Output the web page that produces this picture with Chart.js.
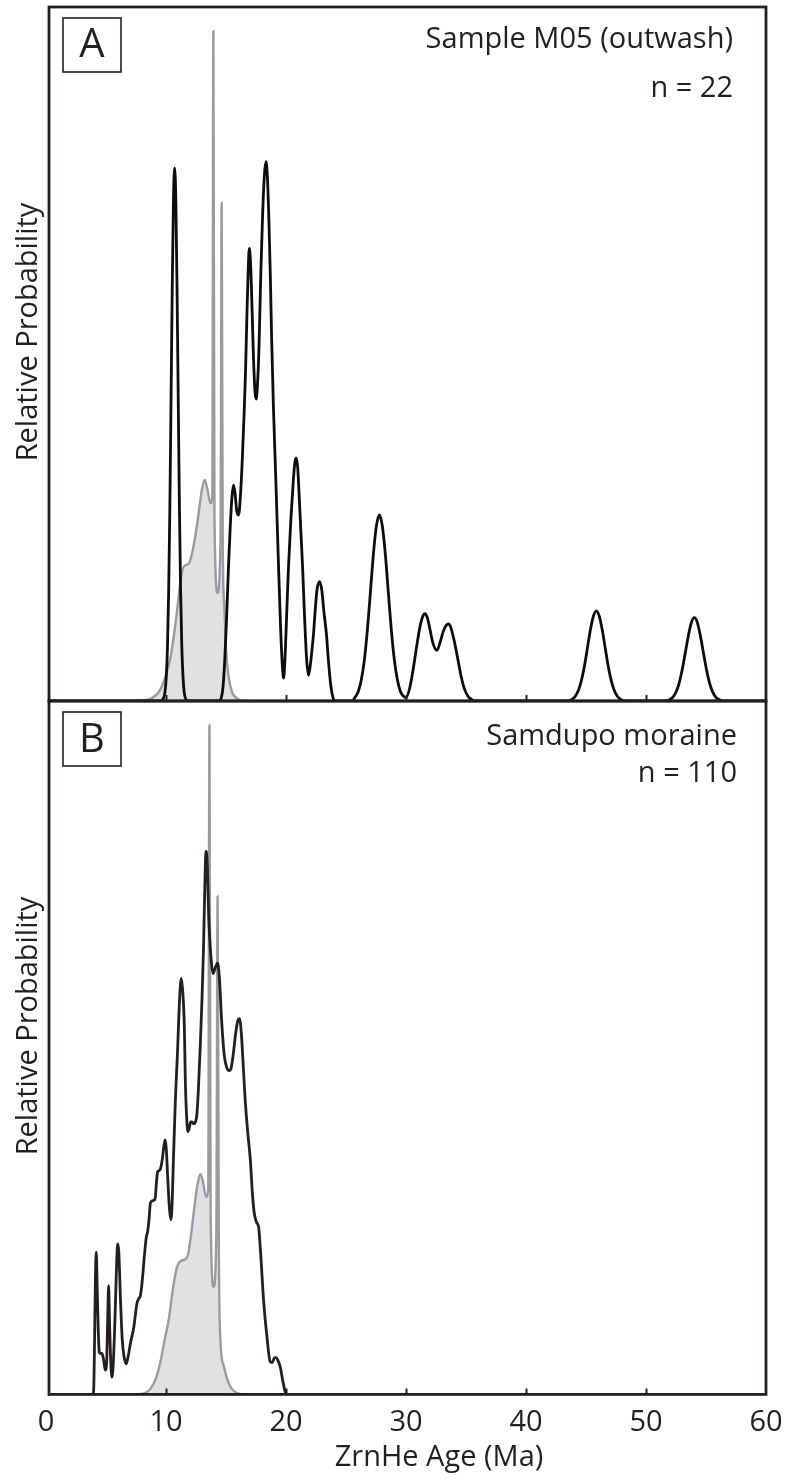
<!DOCTYPE html>
<html>
<head>
<meta charset="utf-8">
<script src="https://cdn.jsdelivr.net/npm/chart.js"></script>
<style>
  html, body { margin: 0; padding: 0; background: #ffffff; }
  body { width: 788px; height: 1480px; overflow: hidden; position: relative; }
  .wrap { position: absolute; left: 0; width: 788px; }
</style>
</head>
<body>
<div class="wrap" style="top:0px;height:703px;"><canvas id="chartA"></canvas></div>
<div class="wrap" style="top:681px;height:799px;"><canvas id="chartB"></canvas></div>
<script>
// ---------- DATA ----------
// x ticks
const xTickValues = [0, 10, 20, 30, 40, 50, 60];
const xTickLabels = ['0', '10', '20', '30', '40', '50', '60'];

// Panel A: Sample M05 (outwash), n = 22 (black curve)
const m05Age = [0.25, 9.6, 9.75, 9.9, 10.02, 10.12, 10.22, 10.32, 10.42, 10.52, 10.62, 10.72, 10.82, 10.92, 11.02, 11.12, 11.22, 11.32, 11.42, 11.52, 11.65, 11.8,
  14.4, 14.6, 14.75, 14.9, 15.05, 15.2, 15.35, 15.5, 15.63, 15.76, 15.9, 16.05, 16.2, 16.35, 16.5, 16.62, 16.75, 16.85, 16.94, 17.05, 17.18, 17.3, 17.42, 17.52, 17.62, 17.75, 17.9, 18.05, 18.2, 18.33, 18.45, 18.58, 18.69, 18.8, 18.95, 19.15, 19.35, 19.55, 19.7, 19.8,
  19.9, 20.0, 20.1, 20.2, 20.4, 20.6, 20.75, 20.86, 20.98, 21.1, 21.25, 21.38, 21.55, 21.72, 21.88,
  22.05, 22.2, 22.3, 22.45, 22.6, 22.8, 22.98, 23.15, 23.36, 23.55, 23.75, 23.95, 24.1,
  25.5, 25.78, 26.03, 26.28, 26.53, 26.78, 27.03, 27.28, 27.53, 27.78, 28.03, 28.28, 28.53, 28.78, 29.03, 29.28, 29.53, 29.78, 30.0,
  30.3, 30.6, 30.9, 31.2, 31.45, 31.6, 31.78, 32.0, 32.25, 32.58, 32.85, 33.1, 33.35, 33.55, 33.75, 34.0, 34.3, 34.6, 34.9, 35.2, 35.5, 35.8,
  43.4, 43.86, 44.11, 44.36, 44.61, 44.86, 45.11, 45.36, 45.61, 45.86, 46.11, 46.36, 46.61, 46.86, 47.11, 47.36, 47.61, 47.86, 48.3,
  51.6, 52.03, 52.28, 52.53, 52.78, 53.03, 53.28, 53.53, 53.78, 54.03, 54.28, 54.53, 54.78, 55.03, 55.28, 55.53, 55.78, 56.03, 56.5, 60];
const m05Prob = [0, 0, 0.3, 1.1, 3.4, 7.7, 15.6, 27.7, 43.3, 59.5, 72.1, 76.8, 72.1, 59.5, 43.3, 27.7, 15.6, 7.7, 3.4, 1.2, 0.3, 0,
  0, 0.4, 2, 6, 12, 19, 25, 29.5, 31.1, 29.8, 27.3, 26.8, 29.5, 34.5, 41, 47, 56, 62, 65.2, 63, 56, 49, 44.5, 43.5, 45.5, 51, 61.6, 70, 75.8, 77.7, 75.5, 69, 61.6, 52.5, 42.5, 32, 21, 10.5, 5, 3.3,
  5.5, 9.8, 14.5, 19, 26, 31.5, 34.5, 35, 33.5, 29.5, 24, 19.4, 12, 6, 3.7,
  5.5, 8, 9.8, 13.5, 16.2, 17.2, 16, 13, 9.8, 5.5, 2, 0.3, 0,
  0, 0.6, 1.4, 3.1, 5.9, 10.2, 15.6, 21.1, 25.2, 26.8, 25.2, 21.1, 15.6, 10.2, 5.9, 3.1, 1.4, 0.7, 0.5,
  1.8, 4.6, 8, 11, 12.4, 12.6, 12, 10.3, 8.3, 7.3, 8.5, 10, 10.9, 11.1, 10.5, 8.8, 6.2, 3.5, 1.6, 0.6, 0.2, 0,
  0, 0.27, 0.68, 1.5, 2.9, 4.95, 7.55, 10.2, 12.2, 13.0, 12.2, 10.2, 7.55, 4.95, 2.9, 1.5, 0.68, 0.27, 0,
  0, 0.25, 0.63, 1.4, 2.7, 4.6, 7.0, 9.4, 11.3, 12.0, 11.3, 9.4, 7.0, 4.6, 2.7, 1.4, 0.63, 0.25, 0, 0];

// Panel A: grey reference distribution (filled)
const refAgeA = [7.5, 8.2, 8.8, 9.4, 9.9, 10.4, 10.9, 11.25, 11.5, 11.9, 12.2, 12.6, 13.0, 13.22, 13.45, 13.7, 13.86, 13.95, 14.04, 14.3, 14.55, 14.64, 14.73, 14.85, 15.0, 15.22, 15.5, 16.0, 16.5, 17];
const refProbA = [0, 0.1, 0.4, 1.3, 3.2, 6.5, 12.7, 17.8, 19.4, 19.8, 21.5, 25.5, 30.5, 31.9, 30.5, 28.5, 29.5, 96.5, 26, 15.6, 24, 71.8, 22, 14, 7.5, 3.5, 1.3, 0.3, 0, 0];

// Panel B: Samdupo moraine, n = 110 (black curve)
const samAge = [0.25, 3.9, 3.97, 4.05, 4.12, 4.19, 4.27, 4.36, 4.44, 4.55, 4.67, 4.8, 4.94, 5.05, 5.13, 5.22, 5.3, 5.4, 5.5, 5.62, 5.75, 5.87, 5.97, 6.07, 6.2, 6.35, 6.5, 6.69,
  6.85, 7.05, 7.3, 7.58, 7.72, 7.86, 8.0, 8.2, 8.36, 8.47, 8.6, 8.69, 8.83, 9.0, 9.1, 9.2, 9.3, 9.45, 9.55, 9.7, 9.8, 9.92, 10.02, 10.15, 10.3, 10.42,
  10.52, 10.62, 10.78, 10.95, 11.13, 11.27, 11.4, 11.53, 11.61, 11.72, 11.83, 11.95, 12.05, 12.17, 12.3, 12.44, 12.58, 12.7, 12.85, 13.0, 13.12, 13.22, 13.3, 13.36, 13.45, 13.55, 13.75, 13.92,
  14.1, 14.3, 14.45, 14.65, 14.85, 15.05, 15.25, 15.4, 15.6, 15.8, 16.0, 16.13, 16.28, 16.45, 16.6, 16.8, 17.03, 17.2, 17.35, 17.55, 17.72, 17.9, 18.13, 18.4, 18.69, 18.85, 19.05, 19.19, 19.35, 19.53, 19.75, 20.03, 60];
const samProb = [0, 0, 0.5, 8, 17, 20.5, 15, 9, 6.1, 5.9, 5.9, 5, 3.5, 4.5, 10, 15.7, 10, 4.5, 2.5, 5, 11, 18, 21.7, 20.5, 14, 8, 5.5, 4.4,
  5.5, 7.5, 9.5, 13.1, 13.8, 14.2, 16, 20, 22.7, 23.5, 25.5, 27.5, 27.9, 28, 28.3, 30.5, 32.1, 32.3, 32.6, 34, 35.5, 36.7, 35.5, 31, 26.5, 25.2,
  28, 34, 42.4, 49, 56.9, 60, 58, 53, 45.3, 40, 37.9, 38.5, 39.3, 39.3, 39, 39.2, 40.5, 44, 50, 57, 64, 72, 77.5, 78.3, 76, 69.4, 63, 60.7,
  61.5, 62.2, 60, 53.5, 49, 47.2, 46.7, 46.9, 49, 52, 54, 54.2, 52, 47, 42.4, 38, 33.8, 29, 26.2, 24.8, 24.1, 20, 13.6, 8.5, 4.7, 4.6, 5.3, 5.3, 4.8, 3.9, 1.8, 0, 0];

// Panel B: grey reference distribution (filled)
const refAgeB = [7.5, 8.1, 8.7, 9.2, 9.55, 9.9, 10.22, 10.6, 10.92, 11.2, 11.5, 11.8, 12.05, 12.3, 12.6, 12.86, 13.1, 13.33, 13.52, 13.62, 13.72, 13.97, 14.2, 14.3, 14.4, 14.53, 14.8, 15.08, 15.4, 15.9, 16.5];
const refProbB = [0, 0.1, 0.8, 2.5, 4.8, 8, 10.7, 15.5, 18.4, 19.2, 19.4, 19.9, 22.5, 26.1, 30, 31.8, 30.5, 28.5, 29.5, 96.5, 26, 15.5, 24, 71.8, 22, 8, 4.2, 2.3, 1, 0.2, 0];

// ---------- helpers ----------
const zip = (xs, ys) => xs.map((x, i) => ({ x: x, y: ys[i] }));
const FONT = '"Open Sans", "Noto Sans", sans-serif';
const INK = '#231f20';

const panelDecor = {
  id: 'panelDecor',
  afterDraw(chart, args, o) {
    const ctx = chart.ctx;
    const { left, right, top, bottom } = chart.chartArea;
    const xs = chart.scales.x;
    ctx.save();
    ctx.strokeStyle = INK;
    ctx.fillStyle = INK;
    // inward tick marks on the bottom axis
    ctx.lineWidth = 2;
    ctx.beginPath();
    xTickValues.forEach(v => {
      if (v <= 0 || v >= 60) return;
      const px = Math.round(xs.getPixelForValue(v)) + 0.5;
      ctx.moveTo(px, bottom);
      ctx.lineTo(px, bottom - 6);
    });
    ctx.stroke();
    // frame
    ctx.lineWidth = 2.8;
    ctx.strokeRect(left, top, right - left, bottom - top);
    // panel letter box
    ctx.lineWidth = 1.6;
    ctx.strokeRect(left + 14, top + 11, 58, 54);
    ctx.font = '40px ' + FONT;
    ctx.textAlign = 'center';
    ctx.textBaseline = 'alphabetic';
    ctx.fillText(o.letter, left + 43, top + o.letterBase);
    // sample label (right aligned)
    ctx.font = '29px ' + FONT;
    ctx.textAlign = 'right';
    o.lines.forEach(l => ctx.fillText(l.text, right - o.labelRight, top + l.base));
    // y axis title
    ctx.save();
    ctx.translate(37, top + 325);
    ctx.rotate(-Math.PI / 2);
    ctx.textAlign = 'center';
    ctx.fillText('Relative Probability', 0, 0);
    ctx.restore();
    // x axis title (bottom panel only)
    if (o.xTitle) {
      ctx.textAlign = 'center';
      ctx.fillText(o.xTitle, 439, bottom + 72);
    }
    ctx.restore();
  }
};

function makeDatasets(bx, by, gx, gy, black) {
  return [
    {
      data: zip(bx, by), borderColor: black, borderWidth: 2.8, fill: false,
      pointRadius: 0, cubicInterpolationMode: 'monotone', order: 0
    },
    {
      data: zip(gx, gy), borderColor: '#999b9e', borderWidth: 2.4, backgroundColor: '#e0e1e3',
      fill: 'origin', pointRadius: 0, cubicInterpolationMode: 'monotone', order: 1
    }
  ];
}

function baseOptions(showXLabels, padding, decor) {
  return {
    responsive: true,
    maintainAspectRatio: false,
    animation: false,
    devicePixelRatio: 1,
    layout: { padding: padding },
    plugins: { legend: { display: false }, tooltip: { enabled: false }, panelDecor: decor },
    scales: {
      x: {
        type: 'linear', min: 0.25, max: 60,
        display: showXLabels,
        afterBuildTicks: (scale) => { scale.ticks = xTickValues.map(v => ({ value: v })); },
        grid: { display: false, drawTicks: false },
        border: { display: false },
        ticks: {
          autoSkip: false, maxRotation: 0, minRotation: 0, padding: 5, color: INK,
          font: { family: FONT, size: 29, lineHeight: 1.6 },
          callback: (v, i) => xTickLabels[i]
        }
      },
      y: { min: 0, max: 100, display: false }
    }
  };
}

new Chart(document.getElementById('chartA'), {
  type: 'line',
  data: { datasets: makeDatasets(m05Age, m05Prob, refAgeA, refProbA, '#0d0d0d') },
  options: baseOptions(false, { top: 7, bottom: 2, left: 49, right: 22 }, {
    letter: 'A', letterBase: 50, labelRight: 33,
    lines: [{ text: 'Sample M05 (outwash)', base: 41 }, { text: 'n = 22', base: 90 }]
  }),
  plugins: [panelDecor]
});

new Chart(document.getElementById('chartB'), {
  type: 'line',
  data: { datasets: makeDatasets(samAge, samProb, refAgeB, refProbB, INK) },
  options: baseOptions(true, { top: 20, bottom: 29.2, left: 49, right: 22 }, {
    letter: 'B', letterBase: 51, labelRight: 29,
    lines: [{ text: 'Samdupo moraine', base: 44 }, { text: 'n = 110', base: 81 }],
    xTitle: 'ZrnHe Age (Ma)'
  }),
  plugins: [panelDecor]
});
</script>
</body>
</html>
